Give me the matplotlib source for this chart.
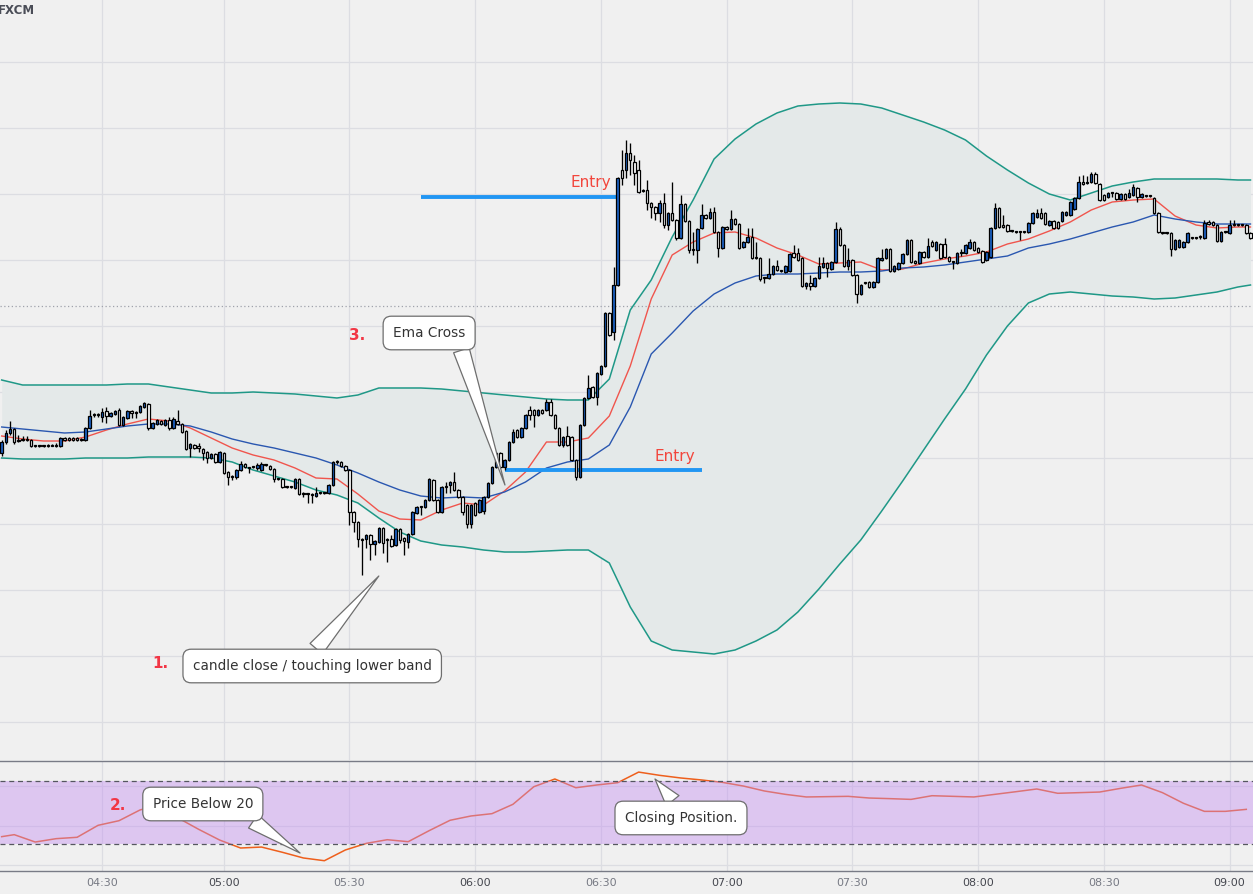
import numpy as np
import pandas as pd
import matplotlib
matplotlib.use("Agg")
import matplotlib.pyplot as plt

# 1 min candles, price in pipettes above 1.10000 (the price scale is cut off in the source)
opens = [
    547, 558, 567, 571, 559, 560, 560, 560, 554, 554,
    554, 554, 554, 555, 554, 562, 562, 562, 562, 560,
    560, 572, 585, 585, 583, 589, 584, 586, 590, 575,
    582, 589, 588, 588, 593, 596, 572, 576, 579, 575,
    580, 572, 579, 576, 569, 552, 555, 554, 551, 548,
    542, 546, 538, 547, 528, 524, 523, 530, 536, 532,
    533, 532, 530, 535, 534, 531, 521, 521, 513, 513,
    512, 521, 507, 506, 506, 504, 507, 507, 507, 515,
    538, 538, 534, 530, 488, 478, 461, 461, 465, 456,
    458, 472, 460, 461, 455, 471, 462, 458, 466, 487,
    493, 493, 500, 520, 500, 488, 513, 515, 518, 510,
    503, 495, 476, 497, 488, 489, 503, 517, 533, 547,
    533, 540, 558, 570, 563, 572, 590, 590, 585, 590,
    590, 598, 585, 572, 555, 564, 563, 540, 523, 575,
    602, 613, 603, 626, 634, 687, 668, 715, 830, 830,
    847, 838, 830, 810, 810, 797, 793, 787, 797, 775,
    787, 780, 762, 796, 779, 750, 750, 772, 785, 782,
    788, 768, 752, 773, 771, 781, 776, 753, 758, 763,
    742, 742, 722, 722, 726, 734, 729, 728, 729, 747,
    747, 742, 714, 717, 714, 722, 733, 737, 731, 738,
    771, 755, 734, 740, 725, 706, 717, 718, 713, 718,
    740, 742, 751, 729, 731, 737, 746, 760, 739, 737,
    748, 743, 758, 750, 756, 756, 743, 738, 737, 747,
    747, 752, 758, 752, 749, 740, 743, 772, 792, 775,
    775, 769, 768, 768, 768, 768, 777, 783, 787, 787,
    775, 779, 778, 779, 785, 785, 791, 802, 818, 817,
    818, 826, 816, 805, 803, 807, 807, 801, 806, 803,
    805, 812, 803, 804, 804, 802, 787, 767, 767, 767,
    751, 753, 753, 758, 762, 762, 763, 762, 778, 778,
    775, 759, 768, 767, 775, 775, 775, 775, 767,
]
highs = [
    560, 570, 579, 572, 565, 564, 564, 561, 555, 555,
    555, 556, 556, 557, 563, 563, 563, 563, 563, 562,
    573, 590, 587, 587, 592, 593, 588, 590, 592, 584,
    590, 590, 589, 595, 598, 597, 578, 581, 580, 581,
    583, 583, 590, 577, 570, 557, 556, 557, 552, 549,
    547, 547, 549, 548, 529, 525, 531, 539, 537, 533,
    534, 537, 538, 536, 535, 532, 522, 522, 514, 514,
    522, 522, 508, 507, 507, 513, 508, 508, 516, 539,
    540, 539, 535, 531, 489, 479, 462, 466, 466, 460,
    473, 473, 462, 465, 472, 472, 463, 467, 489, 494,
    494, 501, 522, 521, 501, 514, 518, 519, 528, 511,
    504, 496, 496, 498, 501, 504, 518, 534, 548, 548,
    541, 559, 571, 571, 573, 586, 594, 591, 591, 591,
    601, 601, 586, 573, 564, 574, 564, 541, 576, 603,
    625, 614, 628, 635, 688, 688, 733, 823, 850, 860,
    857, 845, 840, 811, 820, 798, 794, 800, 807, 788,
    818, 781, 805, 797, 780, 768, 772, 796, 786, 792,
    793, 769, 774, 774, 790, 782, 777, 759, 772, 772,
    758, 743, 723, 742, 735, 740, 730, 735, 747, 755,
    752, 743, 718, 725, 723, 743, 743, 738, 739, 778,
    773, 756, 752, 741, 726, 716, 718, 719, 719, 743,
    751, 752, 752, 735, 738, 747, 761, 761, 740, 749,
    749, 762, 760, 759, 757, 762, 744, 739, 748, 751,
    756, 761, 759, 753, 750, 749, 773, 797, 793, 785,
    776, 770, 769, 769, 769, 778, 788, 791, 792, 788,
    780, 780, 779, 789, 789, 799, 803, 824, 825, 824,
    828, 828, 817, 806, 808, 808, 808, 807, 807, 811,
    816, 813, 807, 805, 805, 803, 788, 768, 768, 768,
    761, 761, 759, 768, 763, 763, 765, 780, 780, 779,
    776, 769, 769, 780, 780, 776, 776, 776, 768,
]
lows = [
    544, 556, 565, 556, 558, 559, 559, 553, 553, 553,
    553, 553, 554, 553, 553, 559, 559, 559, 559, 559,
    559, 571, 583, 583, 578, 577, 583, 585, 574, 574,
    581, 582, 582, 587, 592, 570, 571, 575, 575, 574,
    570, 571, 575, 567, 550, 543, 551, 548, 540, 537,
    541, 537, 537, 526, 515, 520, 521, 529, 532, 527,
    532, 530, 529, 534, 530, 518, 520, 512, 512, 512,
    511, 505, 503, 497, 497, 503, 506, 506, 506, 514,
    536, 533, 529, 475, 468, 453, 425, 452, 440, 445,
    457, 447, 438, 453, 454, 457, 445, 452, 465, 486,
    485, 492, 499, 499, 487, 487, 507, 507, 509, 502,
    485, 472, 472, 484, 487, 486, 502, 516, 532, 532,
    530, 539, 557, 562, 562, 571, 580, 573, 584, 586,
    589, 584, 571, 554, 553, 554, 539, 520, 522, 574,
    601, 602, 595, 625, 633, 664, 660, 714, 815, 822,
    825, 815, 807, 808, 790, 782, 780, 778, 772, 770,
    779, 760, 761, 778, 747, 745, 737, 771, 781, 781,
    767, 743, 751, 770, 770, 775, 751, 752, 757, 741,
    741, 719, 717, 721, 725, 729, 728, 727, 728, 742,
    739, 713, 711, 710, 713, 721, 732, 723, 730, 737,
    754, 733, 730, 724, 697, 705, 716, 712, 712, 717,
    739, 741, 728, 728, 730, 736, 745, 737, 736, 736,
    742, 742, 753, 749, 741, 742, 738, 731, 736, 744,
    746, 751, 749, 747, 737, 739, 742, 771, 772, 772,
    768, 768, 767, 760, 767, 767, 776, 782, 781, 775,
    774, 771, 771, 778, 784, 784, 790, 801, 815, 816,
    817, 816, 799, 799, 802, 803, 800, 800, 800, 802,
    804, 798, 802, 803, 803, 786, 767, 766, 766, 744,
    750, 752, 752, 757, 761, 761, 761, 761, 775, 774,
    758, 758, 767, 766, 774, 774, 774, 766, 761,
]
closes = [
    558, 567, 571, 558, 560, 560, 560, 554, 554, 554,
    554, 554, 555, 554, 562, 560, 560, 560, 560, 560,
    572, 584, 585, 585, 588, 584, 587, 589, 575, 583,
    589, 587, 587, 594, 597, 572, 577, 580, 576, 580,
    572, 581, 576, 568, 551, 556, 552, 552, 547, 542,
    546, 538, 548, 527, 523, 523, 530, 536, 533, 532,
    533, 535, 536, 535, 531, 521, 521, 513, 513, 513,
    521, 506, 506, 506, 505, 507, 507, 507, 515, 538,
    538, 534, 530, 488, 478, 461, 460, 465, 456, 459,
    472, 457, 461, 454, 471, 460, 459, 466, 488, 493,
    493, 500, 521, 500, 488, 513, 513, 518, 510, 503,
    488, 476, 495, 485, 500, 503, 517, 533, 547, 533,
    540, 558, 568, 563, 572, 585, 585, 585, 590, 587,
    598, 585, 572, 555, 563, 555, 540, 523, 575, 602,
    612, 603, 627, 634, 687, 665, 715, 822, 822, 847,
    840, 827, 808, 809, 797, 793, 787, 797, 775, 787,
    780, 762, 796, 779, 750, 750, 771, 785, 782, 788,
    768, 752, 773, 771, 781, 776, 752, 758, 763, 742,
    742, 721, 722, 726, 734, 730, 729, 734, 746, 743,
    740, 714, 717, 714, 722, 734, 737, 732, 738, 771,
    755, 734, 740, 725, 706, 715, 717, 713, 718, 742,
    742, 751, 729, 734, 737, 746, 760, 738, 737, 748,
    743, 754, 754, 758, 742, 743, 739, 738, 747, 747,
    755, 758, 750, 748, 738, 748, 772, 792, 773, 773,
    769, 769, 768, 768, 768, 777, 787, 787, 782, 776,
    779, 772, 772, 788, 788, 798, 802, 818, 816, 818,
    826, 817, 800, 800, 807, 807, 801, 806, 801, 807,
    813, 803, 806, 804, 804, 787, 768, 767, 767, 751,
    760, 760, 758, 767, 762, 762, 763, 777, 776, 775,
    759, 768, 768, 775, 775, 775, 775, 767, 762,
]

# bar clock: from 04:06, the 04:47 bar is missing
day = "2021-03-02 "
bar_times = pd.date_range(day + "04:06", periods=300, freq="1min")
bar_times = bar_times[bar_times != pd.Timestamp(day + "04:47")]

# bollinger bands and emas, read every 5 bars
ind_bars = list(range(0, 300, 5)) + [298]
bb_upper = [
    620, 615, 615, 615, 615, 615, 616, 616, 613, 610,
    607, 607, 608, 607, 606, 604, 602, 605, 612, 612,
    612, 611, 609, 607, 605, 603, 601, 600, 600, 621,
    690, 720, 763, 800, 841, 861, 876, 887, 894, 896,
    897, 896, 892, 885, 878, 870, 860, 844, 830, 817,
    806, 800, 807, 814, 818, 821, 821, 821, 821, 820,
    820,
]
bb_lower = [
    542, 541, 541, 541, 542, 542, 542, 543, 543, 543,
    542, 538, 530, 524, 518, 510, 505, 497, 482, 468,
    459, 455, 453, 450, 448, 448, 449, 450, 450, 437,
    393, 359, 350, 348, 346, 350, 359, 370, 388, 411,
    436, 460, 489, 519, 550, 581, 611, 645, 674, 697,
    706, 708, 706, 704, 703, 701, 702, 705, 708, 713,
    715,
]
ema_fast = [
    564, 561, 559, 559, 563, 570, 576, 581, 579, 572,
    562, 552, 545, 540, 532, 522, 521, 506, 489, 481,
    480, 490, 497, 495, 509, 528, 558, 558, 562, 584,
    634, 701, 745, 758, 767, 768, 762, 752, 745, 736,
    737, 738, 730, 731, 737, 741, 744, 748, 756, 761,
    769, 778, 790, 798, 800, 801, 784, 775, 772, 773,
    773,
]
ema_slow = [
    573, 571, 569, 567, 568, 571, 574, 576, 576, 574,
    568, 561, 556, 552, 547, 542, 535, 527, 518, 510,
    504, 502, 503, 502, 508, 518, 532, 538, 541, 555,
    593, 646, 667, 689, 706, 717, 724, 726, 726, 727,
    728, 728, 729, 732, 733, 735, 738, 741, 744, 752,
    756, 761, 767, 773, 778, 785, 781, 778, 776, 776,
    776,
]

# stochastic of the 5 min chart
stoch_times = pd.date_range(day + "04:04", periods=61, freq="5min")
stoch = [
    27.0, 28.9, 21.9, 25.1, 26.4, 37.8, 42.2, 52.4, 58.0, 45.0,
    34.0, 23.8, 16.2, 17.1, 12.1, 6.7, 4.1, 14.3, 20.6, 24.1,
    22.2, 32.7, 42.6, 46.7, 48.9, 57.8, 74.6, 81.9, 73.6, 76.2,
    78.4, 88.5, 85.4, 82.9, 81.0, 78.7, 75.2, 70.5, 67.3, 64.8,
    65.1, 65.4, 63.8, 63.2, 62.5, 66.0, 65.4, 64.8, 67.3, 69.8,
    72.4, 68.3, 68.9, 69.5, 73.0, 76.2, 68.9, 58.8, 51.1, 51.1,
    53.0,
]

# drawn entry lines
entry_level = [803, 530]
entry_from = ["05:47", "06:07"]
entry_to = ["06:34", "06:54"]
price_line = 694


def pos(hhmm):
    return np.searchsorted(bar_times, pd.Timestamp(day + hhmm))


BG = "#f0f0f0"
GRID = "#dcdde2"
fig = plt.figure(figsize=(12.53, 8.94), dpi=100, facecolor=BG)
ax = fig.add_axes([0, 134 / 894, 1, 760 / 894], facecolor=BG)
ax2 = fig.add_axes([0, 23 / 894, 1, 110 / 894], facecolor=BG, sharex=ax)

tick_times = bar_times[bar_times.minute % 30 == 0]
tick_pos = np.searchsorted(bar_times, tick_times)

# ---- price panel ----
ax.fill_between(ind_bars, bb_lower, bb_upper, color="#e4e9e9", lw=0, zorder=1)
ax.plot(ind_bars, bb_upper, color="#1f9887", lw=1.1, zorder=2)
ax.plot(ind_bars, bb_lower, color="#1f9887", lw=1.1, zorder=2)
ax.plot(ind_bars, ema_fast, color="#f0554d", lw=1.0, zorder=3)
ax.plot(ind_bars, ema_slow, color="#2a57b0", lw=1.0, zorder=3)
ax.axhline(price_line, color="#a0a2ab", lw=0.9, ls=(0, (1, 2)), zorder=1)

for lev, a, b in zip(entry_level, entry_from, entry_to):
    ax.hlines(lev, pos(a), pos(b), color="#2196f3", lw=2.8, zorder=4)
    ax.text(pos(b) - 1.5, lev + 14, "Entry", color="#f2463c", fontsize=11,
            ha="right", va="center", zorder=8)

x = np.arange(len(closes))
o, h, l, c = (np.array(v, dtype=float) for v in (opens, highs, lows, closes))
ax.vlines(x, l, h, color="black", lw=0.95, zorder=5)
ax.bar(x, np.maximum(np.abs(c - o), 0.8), bottom=np.minimum(o, c), width=0.58,
       color=np.where(c > o, "#1c62c4", "white"), edgecolor="black",
       linewidth=0.9, zorder=6)

ax.set_xlim(-0.4, 298.6)
ax.set_ylim(240, 1000)
ax.set_yticks(np.arange(278, 1000, 66))
ax.set_xticks(tick_pos)
ax.grid(color=GRID, lw=0.9)
ax.set_axisbelow(True)
ax.tick_params(length=0, labelbottom=False, labelleft=False)
for s in ax.spines.values():
    s.set_visible(False)

bubble = dict(boxstyle="round,pad=0.72,rounding_size=0.6", fc="white", ec="#6e6e6e", lw=0.9)


def wedge(rel):
    return dict(arrowstyle="wedge,tail_width=1.2,shrink_factor=0.5", fc="white",
                ec="#6e6e6e", lw=0.9, relpos=rel, shrinkA=0, shrinkB=0)


ax.annotate("candle close / touching lower band", xy=(90.0, 424), xytext=(74.1, 334),
            ha="center", va="center", fontsize=9.8, color="#333333", bbox=bubble,
            arrowprops=wedge((0.48, 1.0)), zorder=9)
ax.annotate("Ema Cross", xy=(120.1, 515), xytext=(102.0, 667),
            ha="center", va="center", fontsize=9.8, color="#333333", bbox=bubble,
            arrowprops=wedge((0.9, 0.0)), zorder=9)
ax.text(37.8, 337, "1.", color="#f23645", fontsize=11, fontweight="bold", ha="center", va="center")
ax.text(84.8, 664, "3.", color="#f23645", fontsize=11, fontweight="bold", ha="center", va="center")

# ---- stochastic panel ----
stoch_pos = np.searchsorted(bar_times, stoch_times)
ax2.plot(stoch_pos, stoch, color="#ee5f1c", lw=1.1, zorder=2)
ax2.axhspan(20, 80, color="#c48ef2", alpha=0.42, lw=0, zorder=3)
for lev in (80, 20):
    ax2.axhline(lev, color="#55575f", lw=0.9, ls=(0, (4, 3)), zorder=4)
ax2.set_ylim(-5.7, 99.05)
ax2.set_yticks([0, 37.5, 75])
ax2.grid(color=GRID, lw=0.9)
ax2.set_axisbelow(True)
ax2.set_xticks(tick_pos, [t.strftime("%H:%M") for t in tick_times])
ax2.tick_params(axis="x", length=0, pad=5, labelsize=8, labelcolor="#777a84")
ax2.tick_params(axis="y", length=0, labelleft=False)
for lab in ax2.get_xticklabels():
    if lab.get_text().endswith(":00"):
        lab.set_color("#45474f")
for side in ("left", "right"):
    ax2.spines[side].set_visible(False)
for side in ("top", "bottom"):
    ax2.spines[side].set_color("#787b86")
    ax2.spines[side].set_linewidth(1.0)

ax2.annotate("Price Below 20", xy=(71.2, 11.4), xytext=(48.0, 58.1),
             ha="center", va="center", fontsize=9.8, color="#333333", bbox=bubble,
             arrowprops=wedge((0.85, 0.0)), zorder=9, annotation_clip=False)
ax2.annotate("Closing Position.", xy=(155.9, 81.9), xytext=(162.1, 44.8),
             ha="center", va="center", fontsize=9.8, color="#333333", bbox=bubble,
             arrowprops=wedge((0.5, 1.0)), zorder=9, annotation_clip=False)
ax2.text(27.8, 57.1, "2.", color="#f23645", fontsize=11, fontweight="bold", ha="center", va="center")

fig.text(-0.002, 1 - 11 / 894, "FXCM", fontsize=8.5, fontweight="bold",
         color="#4a4d57", ha="left", va="center")

fig.savefig("out.png", dpi=100, facecolor=BG)
